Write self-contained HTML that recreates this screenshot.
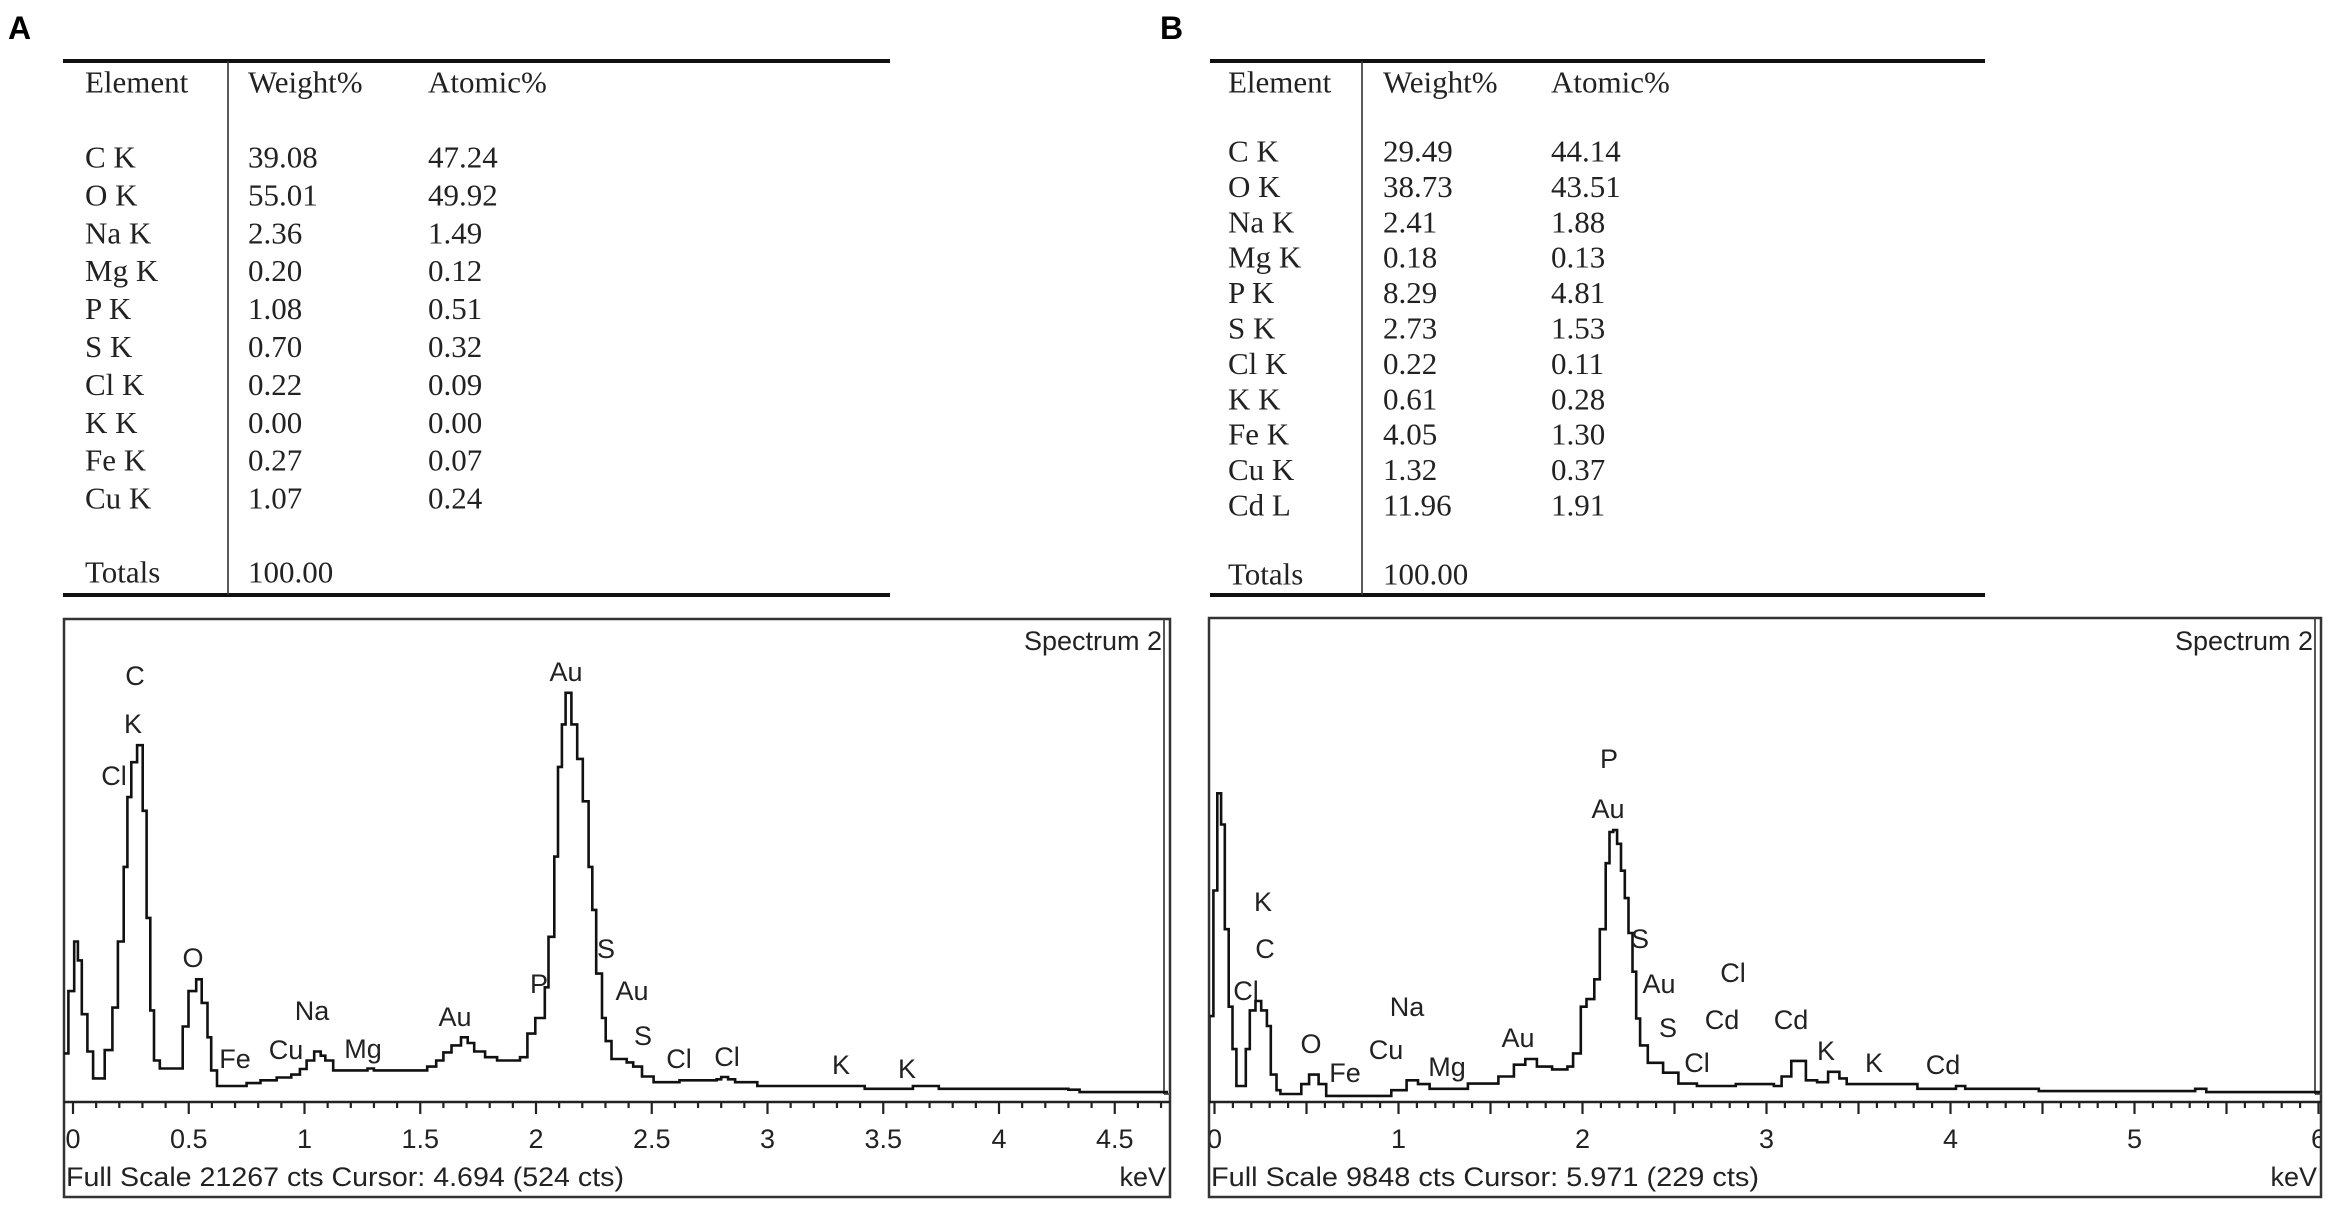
<!DOCTYPE html>
<html><head><meta charset="utf-8"><style>
html,body{margin:0;padding:0;background:#fff;}
svg{display:block;}
.tb{font-family:"Liberation Serif",serif;font-size:31px;fill:#222;}
.sp{font-family:"Liberation Sans",sans-serif;font-size:27px;fill:#222;}
.pl{font-family:"Liberation Sans",sans-serif;font-size:32px;font-weight:bold;fill:#000;}
</style></head><body>
<svg id="fig" width="2333" height="1208" viewBox="0 0 2333 1208" xmlns="http://www.w3.org/2000/svg">
<defs>
<clipPath id="clipA"><rect x="64" y="620" width="1104" height="576"/></clipPath>
<clipPath id="clipB"><rect x="1210" y="618" width="1110" height="578"/></clipPath>
</defs>
<g id="root"></g>
</svg>
<script>
// ---- Table data ----
const elementsA = ["C K","O K","Na K","Mg K","P K","S K","Cl K","K K","Fe K","Cu K"];
const weightA = ["39.08","55.01","2.36","0.20","1.08","0.70","0.22","0.00","0.27","1.07"];
const atomicA = ["47.24","49.92","1.49","0.12","0.51","0.32","0.09","0.00","0.07","0.24"];
const elementsB = ["C K","O K","Na K","Mg K","P K","S K","Cl K","K K","Fe K","Cu K","Cd L"];
const weightB = ["29.49","38.73","2.41","0.18","8.29","2.73","0.22","0.61","4.05","1.32","11.96"];
const atomicB = ["44.14","43.51","1.88","0.13","4.81","1.53","0.11","0.28","1.30","0.37","1.91"];

// ---- Spectrum A: keV, relative counts (% of full scale) ----
const energyA = [-0.047,-0.02,0.005,0.021,0.038,0.062,0.087,0.137,0.17,0.194,0.219,0.235,0.252,0.277,0.301,0.318,0.334,0.35,0.375,0.474,0.499,0.532,0.556,0.581,0.597,0.622,0.75,0.81,0.88,0.943,0.98,1.009,1.042,1.07,1.09,1.124,1.272,1.3,1.486,1.53,1.569,1.6,1.635,1.676,1.705,1.733,1.78,1.832,1.931,1.963,1.997,2.038,2.054,2.079,2.095,2.112,2.128,2.153,2.178,2.202,2.227,2.243,2.26,2.285,2.301,2.326,2.392,2.42,2.458,2.508,2.62,2.78,2.8,2.83,2.86,2.956,3.42,3.628,3.74,4.3,4.348,4.75];
const countsA = [10.3,23.5,34,30,18.6,10.7,5,11,20,34,49.8,64.6,72,75.6,61.7,39,19.4,8.8,7.1,16,23.5,26,21,13.7,6.7,3.4,4,4.6,5.2,5.8,7,8.8,10.7,9.8,8.8,6.7,7.1,6.7,6.7,7.5,8.8,10.5,12,13.7,12.5,10.7,9.5,8.8,9.5,14.5,17.8,24.3,35,52,71,80,86.7,80,72.7,63.7,49.8,40.7,27.2,17.8,12.9,9.1,8.4,7.5,5.4,4.2,4.6,4.8,5.3,4.8,4.2,3.4,2.8,3.4,2.8,2.6,2.1,2.1];
const ticksA = ["0","0.5","1","1.5","2","2.5","3","3.5","4","4.5"];
const peakLabelsA = ["C","K","Cl","O","Fe","Cu","Na","Mg","Au","P","Au","S","Au","S","Cl","Cl","K","K"];

// ---- Spectrum B ----
const energyB = [-0.04,-0.027,-0.006,0.015,0.036,0.056,0.077,0.098,0.119,0.17,0.192,0.223,0.254,0.285,0.306,0.337,0.358,0.441,0.472,0.514,0.566,0.607,0.753,0.961,1.044,1.106,1.169,1.377,1.543,1.627,1.689,1.752,1.835,1.918,1.949,1.991,2.022,2.064,2.094,2.126,2.147,2.167,2.188,2.209,2.23,2.25,2.272,2.292,2.313,2.355,2.438,2.521,2.622,2.833,3.04,3.082,3.135,3.214,3.275,3.335,3.396,3.436,3.82,4.03,4.08,4.48,5.33,5.39,6.05];
const countsB = [0,18.2,44.8,65.4,58.8,36.6,20.2,11.2,3.4,11.2,19.4,21.4,19.4,16.1,5.8,2.5,1.7,1.7,3.8,5.8,3.8,1.3,1.3,2.5,4.6,3.8,2.8,3.9,5.4,7.9,9.1,7.5,6.9,7.5,10.3,20.2,21.8,26,36.6,50.6,57.2,57.6,54.7,49,43.2,35.8,27.6,17.7,12,8.3,6.2,3.9,3.4,3.8,3.4,5.4,8.7,4.6,4.2,6.4,5,3.8,2.8,3.4,2.8,2.3,2.8,2.1,2];
const ticksB = ["0","1","2","3","4","5","6"];
const peakLabelsB = ["K","C","Cl","O","Fe","Cu","Na","Mg","Au","P","Au","S","Au","S","Cl","Cl","Cd","Cd","K","K","Cd"];

const NS = "http://www.w3.org/2000/svg";
const root = document.getElementById('root');
function mk(tag, attrs, parent) {
  const e = document.createElementNS(NS, tag);
  for (const k in attrs) e.setAttribute(k, attrs[k]);
  (parent || root).appendChild(e);
  return e;
}
function txt(s, x, y, cls, anchor, parent) {
  const t = mk('text', {x: x, y: y, class: cls, 'text-anchor': anchor || 'start', 'dominant-baseline': 'central'}, parent);
  t.textContent = s;
  return t;
}

// Panel letters
let t = txt("A", 8, 28, "pl");


t = txt("B", 1160, 28, "pl");



// Tables
function table(cfg, els, ws, ats, name) {
  const g = mk('g', {});
  
  
  mk('line', {x1: cfg.x1, x2: cfg.x2, y1: 61, y2: 61, stroke: '#111', 'stroke-width': 4}, g);
  mk('line', {x1: cfg.x1, x2: cfg.x2, y1: 595, y2: 595, stroke: '#111', 'stroke-width': 4}, g);
  mk('line', {x1: cfg.vx, x2: cfg.vx, y1: 61, y2: 595, stroke: '#333', 'stroke-width': 1.6}, g);
  txt("Element", cfg.c1, 82, "tb", "start", g);
  txt("Weight%", cfg.c2, 82, "tb", "start", g);
  txt("Atomic%", cfg.c3, 82, "tb", "start", g);
  for (let i = 0; i < els.length; i++) {
    const y = cfg.r0 + i * cfg.dr;
    txt(els[i], cfg.c1, y, "tb", "start", g);
    txt(ws[i], cfg.c2, y, "tb", "start", g);
    txt(ats[i], cfg.c3, y, "tb", "start", g);
  }
  txt("Totals", cfg.c1, cfg.ty, "tb", "start", g);
  txt("100.00", cfg.c2, cfg.ty, "tb", "start", g);
}
table({x1: 63, x2: 890, vx: 228, c1: 85, c2: 248, c3: 428, r0: 157, dr: 37.9, ty: 572}, elementsA, weightA, atomicA, "table-a");
table({x1: 1210, x2: 1985, vx: 1362, c1: 1228, c2: 1383, c3: 1551, r0: 151, dr: 35.4, ty: 574}, elementsB, weightB, atomicB, "table-b");

// Spectra
function spectrum(cfg, en, ct, ticks, labels, labelPos, name) {
  const g = mk('g', {});
  
  
  const X = k => cfg.x0 + cfg.kx * k;
  const Y = v => cfg.axisY - cfg.vy * v;
  // frame
  mk('rect', {x: cfg.fl, y: cfg.ft, width: cfg.fr - cfg.fl, height: cfg.fb - cfg.ft, fill: 'none', stroke: '#333', 'stroke-width': 2.5}, g);
  mk('line', {x1: cfg.fr - 6, x2: cfg.fr - 6, y1: cfg.ft, y2: cfg.axisY - 8, stroke: '#444', 'stroke-width': 1.8}, g);
  mk('line', {x1: cfg.fr - 6, x2: cfg.fr, y1: cfg.axisY - 8, y2: cfg.axisY - 8, stroke: '#444', 'stroke-width': 1.8}, g);
  // axis
  const ax = mk('line', {x1: cfg.fl, x2: cfg.fr, y1: cfg.axisY, y2: cfg.axisY, stroke: '#222', 'stroke-width': 2.5}, g);
  
  
  const nMinor = Math.floor(cfg.kmax * 10 + 1e-6);
  for (let i = 0; i <= nMinor; i++) {
    const major = i % 5 === 0;
    mk('line', {x1: X(i / 10), x2: X(i / 10), y1: cfg.axisY, y2: cfg.axisY + (major ? 12 : 6), stroke: '#222', 'stroke-width': 2.2}, g);
  }
  const cg = mk('g', {'clip-path': cfg.clip}, g);
  for (let i = 0; i < ticks.length; i++) {
    const tl = txt(ticks[i], X(parseFloat(ticks[i])), 1139, "sp", "middle", cg);
    
    
  }
  // curve (step)
  let d = "M" + X(en[0]).toFixed(1) + "," + Y(ct[0]).toFixed(1);
  for (let i = 1; i < en.length; i++) {
    d += "H" + X(en[i]).toFixed(1) + "V" + Y(ct[i]).toFixed(1);
  }
  const p = mk('path', {d: d, fill: 'none', stroke: '#111', 'stroke-width': 2.6, 'stroke-linejoin': 'miter'}, cg);
  
  
  for (let i = 0; i < labels.length; i++) {
    const pl = txt(labels[i], labelPos[i][0], labelPos[i][1], "sp", "middle", g);
    
    
  }
  const st = txt("Spectrum 2", cfg.fr - 8, 641, "sp", "end", g);
  
  
  const fs = txt(cfg.foot, cfg.fl + 2, 1177, "sp", "start", g);
  fs.setAttribute('textLength', cfg.footW);
  fs.setAttribute('lengthAdjust', 'spacingAndGlyphs');
  
  
  const kv = txt("keV", cfg.fr - 4, 1177, "sp", "end", g);
  
  
}
const posA = [[135,676],[133,724],[114,776],[193,958],[235,1059],[286,1050],[312,1011],[363,1049],[455,1017],[539,984],[566,672],[606,949],[632,991],[643,1036],[679,1059],[727,1057],[841,1065],[907,1069]];
spectrum({x0: 73, kx: 231.5, axisY: 1102, vy: 4.72, fl: 64, ft: 619, fr: 1170, fb: 1197, kmax: 4.7, clip: 'url(#clipA)', foot: "Full Scale 21267 cts Cursor: 4.694  (524 cts)", footW: 558}, energyA, countsA, ticksA, peakLabelsA, posA, "spectrum-a");
const posB = [[1263,902],[1265,949],[1246,991],[1311,1044],[1345,1073],[1386,1050],[1407,1007],[1447,1067],[1518,1038],[1609,759],[1608,809],[1640,939],[1659,984],[1668,1028],[1697,1063],[1733,973],[1722,1020],[1791,1020],[1826,1051],[1874,1063],[1943,1065]];
spectrum({x0: 1214.5, kx: 184, axisY: 1102, vy: 4.72, fl: 1209, ft: 618, fr: 2321, fb: 1197, kmax: 6.0, clip: 'url(#clipB)', foot: "Full Scale 9848 cts Cursor: 5.971  (229 cts)", footW: 548}, energyB, countsB, ticksB, peakLabelsB, posB, "spectrum-b");
</script>
</body></html>
